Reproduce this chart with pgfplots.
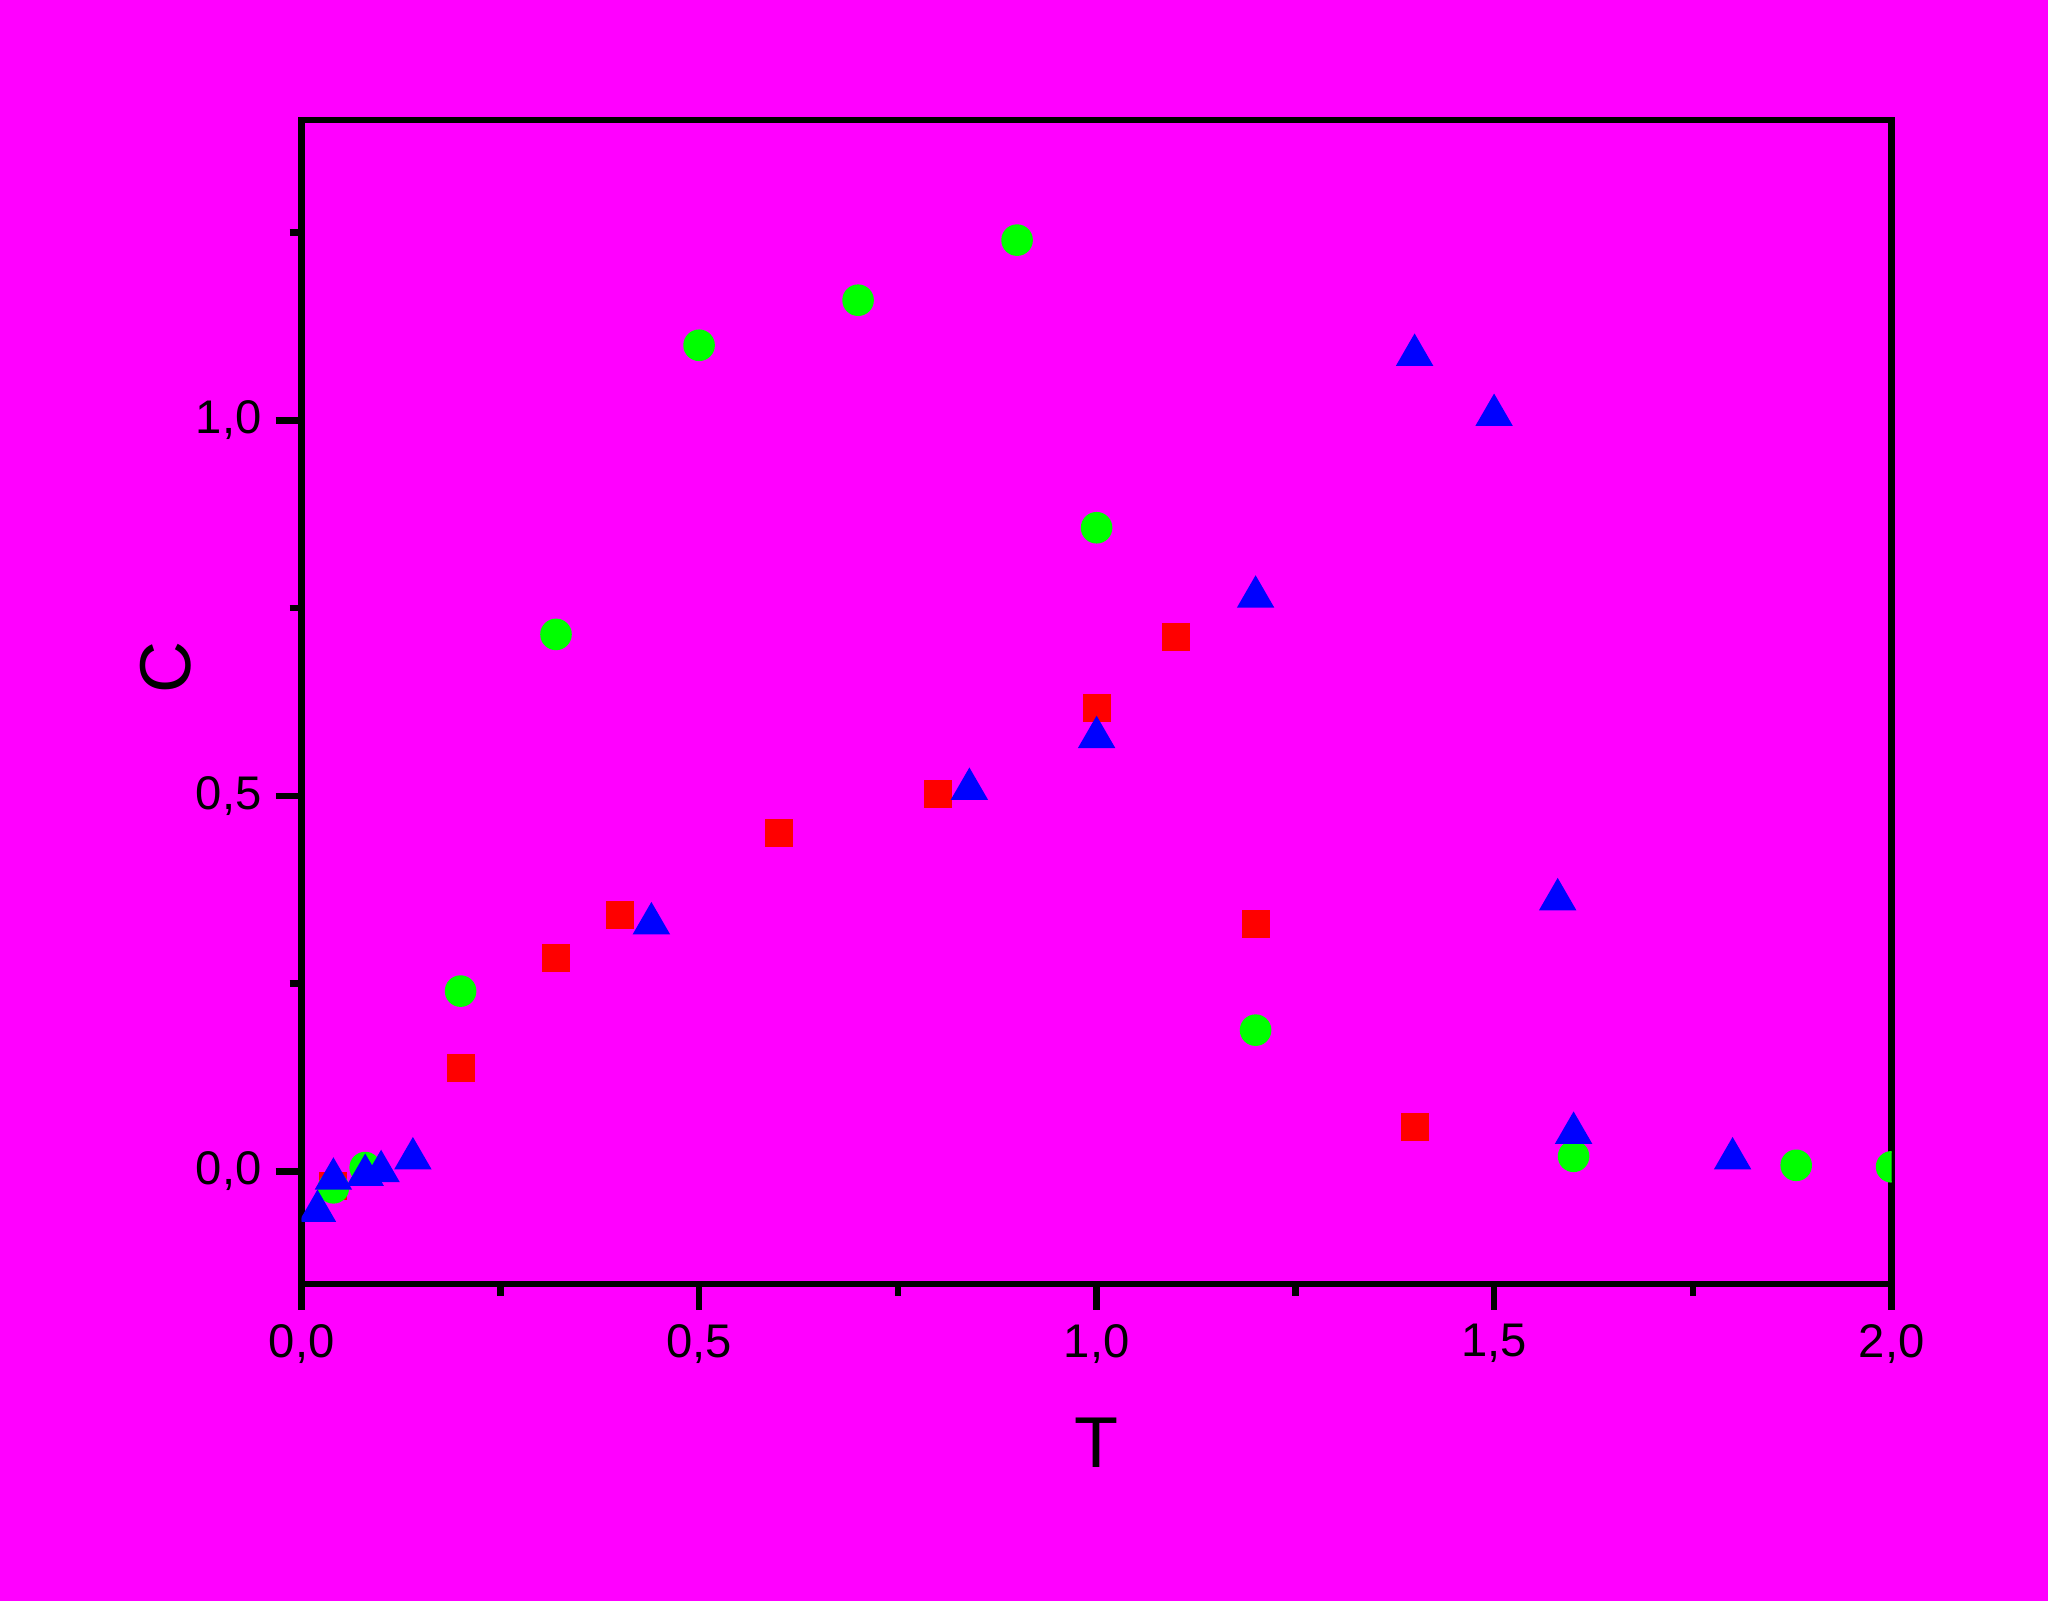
\documentclass[border=0pt]{standalone}
\usepackage{pgfplots}
\pgfplotsset{compat=1.18}
\usepackage{fontspec}
\setmainfont{Liberation Sans}
\definecolor{bgmag}{RGB}{255,0,255}
\definecolor{mgreen}{RGB}{0,255,0}
\definecolor{mred}{RGB}{255,0,0}
\definecolor{mblue}{RGB}{0,0,255}
\begin{document}
\begin{tikzpicture}
\fill[bgmag] (-75.4pt,-79.25pt) rectangle ++(512pt,400.25pt);
\path[use as bounding box] (-75.4pt,-79.25pt) rectangle ++(512pt,400.25pt);
\begin{axis}[
  at={(0,0)}, anchor=south west,
  scale only axis,
  width=397.5pt, height=291pt,
  xmin=0, xmax=2, ymin=-0.15, ymax=1.40,
  axis line style={line width=1.7pt},
  every tick/.style={black, line width=1.6pt},
  tick align=outside,
  major tick length=6.5pt,
  minor tick length=3pt,
  xtick={0,0.5,1,1.5,2},
  ytick={0,0.5,1},
  minor xtick={0.25,0.75,1.25,1.75},
  minor ytick={0.25,0.75,1.25},
  xtick pos=bottom, ytick pos=left,
  xticklabel style={font=\fontsize{11.8}{12}\selectfont},
  yticklabel style={font=\fontsize{11.8}{12}\selectfont},
  /pgf/number format/assume math mode=true,
  /pgf/number format/.cd, fixed, fixed zerofill, precision=1, use comma,
  /pgfplots/.cd,
  xlabel={T}, ylabel={C},
  label style={font=\fontsize{18}{20}\selectfont},
  xlabel style={at={(axis description cs:0.5,0)}, anchor=north, yshift=-30pt},
  ylabel style={at={(axis description cs:0,0.53)}, anchor=south, yshift=24pt},
  clip=true, clip marker paths=true,
]
\addplot[only marks, mark=square*, mark size=3.3pt, mred, mark options={draw=mred, fill=mred}] coordinates {
(0.04,-0.02) (0.2,0.138) (0.32,0.284) (0.4,0.341) (0.6,0.451) (0.8,0.502) (1.0,0.617) (1.1,0.711) (1.2,0.329) (1.4,0.059)
};
\addplot[only marks, mark=*, mark size=3.75pt, mgreen, mark options={draw=mgreen, fill=mgreen}] coordinates {
(0.04,-0.022) (0.08,0.005) (0.2,0.24) (0.32,0.715) (0.5,1.1) (0.7,1.16) (0.9,1.24) (1.0,0.857) (1.2,0.188) (1.6,0.02) (1.88,0.008) (2.0,0.006)
};
\addplot[only marks, mark=triangle*, mark size=5pt, mblue, mark options={draw=mblue, fill=mblue}] coordinates {
(0.02,-0.053) (0.04,-0.01) (0.08,-0.005) (0.1,0.0) (0.14,0.017) (0.44,0.33) (0.84,0.509) (1.0,0.578) (1.2,0.765) (1.4,1.087) (1.5,1.007) (1.58,0.362) (1.6,0.051) (1.8,0.017)
};
\end{axis}
\end{tikzpicture}
\end{document}
